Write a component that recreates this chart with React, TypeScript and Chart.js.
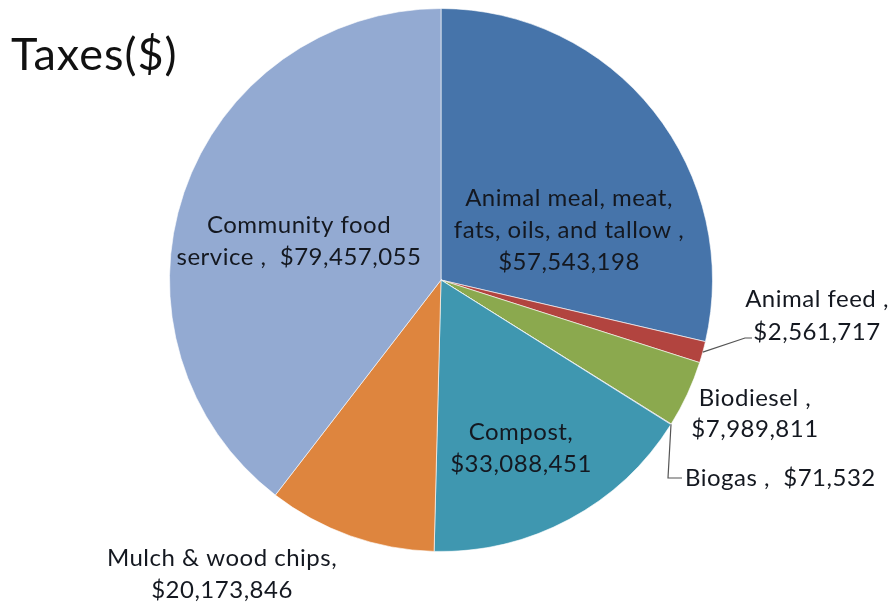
import React, { useEffect, useRef } from "react";
import { Chart, registerables } from "chart.js";

Chart.register(...registerables);

const categories = [
  "Animal meal, meat, fats, oils, and tallow",
  "Animal feed",
  "Biodiesel",
  "Biogas",
  "Compost",
  "Mulch & wood chips",
  "Community food service",
];
const taxValues = [57543198, 2561717, 7989811, 71532, 33088451, 20173846, 79457055];
const sliceColors = ["#4674AA", "#B2443F", "#8BA94E", "#6F5A93", "#3F97B0", "#DE853E", "#93AAD2"];
const labelLines = [
  ["Animal meal, meat,", "fats, oils, and tallow ,", "$57,543,198"],
  ["Animal feed ,", "$2,561,717"],
  ["Biodiesel ,", "$7,989,811"],
  ["Biogas ,  $71,532"],
  ["Compost,", "$33,088,451"],
  ["Mulch & wood chips,", "$20,173,846"],
  ["Community food", "service ,  $79,457,055"],
];
const titleText = "Taxes($)";

const FONT = "Lato, 'Open Sans', sans-serif";

// label placement (center x, first line y, line height) and optional leader line end
const labelPos: { x: number; y: number; lh: number; align?: CanvasTextAlign; leader?: number[][] }[] = [
  { x: 569, y: 198, lh: 32 },
  { x: 817, y: 299, lh: 33, leader: [[745, 338], [752, 338]] },
  { x: 755, y: 398, lh: 31 },
  { x: 685, y: 478, lh: 32, align: "left", leader: [[668, 478], [682, 478]] },
  { x: 521, y: 432, lh: 32 },
  { x: 222, y: 558, lh: 32 },
  { x: 299, y: 225, lh: 32 },
];

const labelPlugin = {
  id: "customLabels",
  afterDraw(chart: any) {
    const ctx = chart.ctx as any;
    const meta = chart.getDatasetMeta(0);
    ctx.save();
    // title
    ctx.fillStyle = "#111";
    ctx.font = `45px ${FONT}`;
    ctx.letterSpacing = "1px";
    ctx.textAlign = "left";
    ctx.textBaseline = "middle";
    ctx.fillText(titleText, 11, 55);

    ctx.font = `24px ${FONT}`;
    ctx.letterSpacing = "0.5px";
    labelLines.forEach((lines, i) => {
      const p = labelPos[i];
      const arc = meta.data[i];
      if (p.leader && arc) {
        const mid = (arc.startAngle + arc.endAngle) / 2;
        const sx = arc.x + Math.cos(mid) * arc.outerRadius;
        const sy = arc.y + Math.sin(mid) * arc.outerRadius;
        ctx.strokeStyle = "#555";
        ctx.lineWidth = 1.2;
        ctx.beginPath();
        ctx.moveTo(sx, sy);
        p.leader.forEach(([lx, ly]) => ctx.lineTo(lx, ly));
        ctx.stroke();
      }
      ctx.fillStyle = "#141820";
      ctx.textAlign = p.align || "center";
      ctx.textBaseline = "middle";
      lines.forEach((t, j) => ctx.fillText(t, p.x, p.y + j * p.lh));
    });
    ctx.restore();
  },
};

export default function App() {
  const ref = useRef<HTMLCanvasElement>(null);
  useEffect(() => {
    if (!ref.current) return;
    const chart = new Chart(ref.current, {
      type: "pie",
      data: {
        labels: categories,
        datasets: [
          {
            data: taxValues,
            backgroundColor: sliceColors,
            borderColor: "rgba(255,255,255,0.6)",
            borderWidth: 1,
          },
        ],
      },
      options: {
        animation: false,
        responsive: false,
        layout: { padding: { left: 169, right: 183, top: 8, bottom: 55 } },
        plugins: {
          legend: { display: false },
          tooltip: { enabled: false },
          title: { display: false },
        },
      },
      plugins: [labelPlugin],
    });
    return () => chart.destroy();
  }, []);
  return (
    <div style={{ position: "fixed", left: 0, top: 0, width: 896, height: 607, background: "#fff" }}>
      <canvas ref={ref} width={896} height={607} style={{ width: 896, height: 607 }} />
    </div>
  );
}
